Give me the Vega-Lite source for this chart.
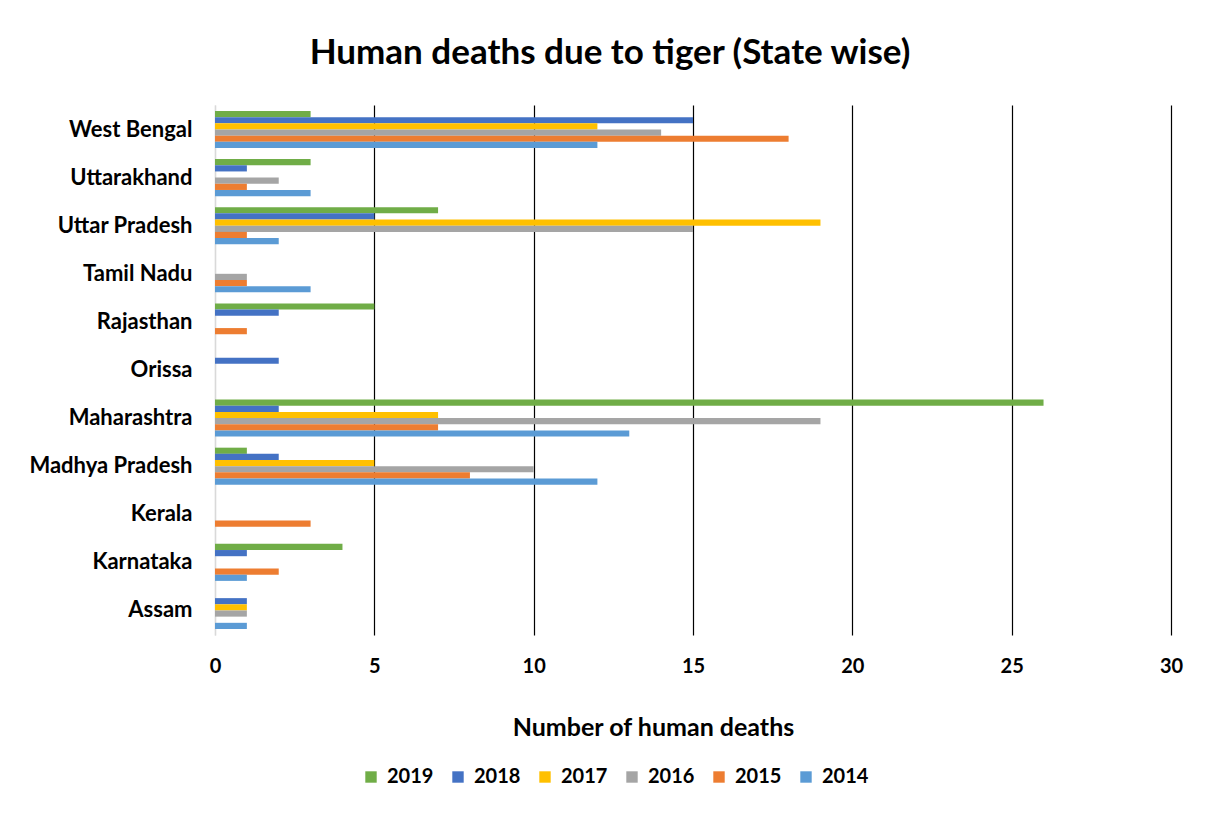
{
  "$schema": "https://vega.github.io/schema/vega-lite/v6.json",
  "width": 956,
  "height": 530,
  "autosize": {"type": "none"},
  "padding": {"left": 215, "top": 105, "right": 42, "bottom": 178},
  "background": "white",
  "title": {
    "text": "Human deaths due to tiger (State wise)",
    "font": "Lato",
    "fontSize": 35,
    "fontWeight": "bold",
    "color": "#000000",
    "anchor": "middle",
    "dx": -83,
    "offset": 34
  },
  "config": {"view": {"stroke": null}, "font": "Lato"},
  "data": {
    "values": [
      {"state": "West Bengal", "year": "2019", "deaths": 3},
      {"state": "West Bengal", "year": "2018", "deaths": 15},
      {"state": "West Bengal", "year": "2017", "deaths": 12},
      {"state": "West Bengal", "year": "2016", "deaths": 14},
      {"state": "West Bengal", "year": "2015", "deaths": 18},
      {"state": "West Bengal", "year": "2014", "deaths": 12},
      {"state": "Uttarakhand", "year": "2019", "deaths": 3},
      {"state": "Uttarakhand", "year": "2018", "deaths": 1},
      {"state": "Uttarakhand", "year": "2016", "deaths": 2},
      {"state": "Uttarakhand", "year": "2015", "deaths": 1},
      {"state": "Uttarakhand", "year": "2014", "deaths": 3},
      {"state": "Uttar Pradesh", "year": "2019", "deaths": 7},
      {"state": "Uttar Pradesh", "year": "2018", "deaths": 5},
      {"state": "Uttar Pradesh", "year": "2017", "deaths": 19},
      {"state": "Uttar Pradesh", "year": "2016", "deaths": 15},
      {"state": "Uttar Pradesh", "year": "2015", "deaths": 1},
      {"state": "Uttar Pradesh", "year": "2014", "deaths": 2},
      {"state": "Tamil Nadu", "year": "2016", "deaths": 1},
      {"state": "Tamil Nadu", "year": "2015", "deaths": 1},
      {"state": "Tamil Nadu", "year": "2014", "deaths": 3},
      {"state": "Rajasthan", "year": "2019", "deaths": 5},
      {"state": "Rajasthan", "year": "2018", "deaths": 2},
      {"state": "Rajasthan", "year": "2015", "deaths": 1},
      {"state": "Orissa", "year": "2018", "deaths": 2},
      {"state": "Maharashtra", "year": "2019", "deaths": 26},
      {"state": "Maharashtra", "year": "2018", "deaths": 2},
      {"state": "Maharashtra", "year": "2017", "deaths": 7},
      {"state": "Maharashtra", "year": "2016", "deaths": 19},
      {"state": "Maharashtra", "year": "2015", "deaths": 7},
      {"state": "Maharashtra", "year": "2014", "deaths": 13},
      {"state": "Madhya Pradesh", "year": "2019", "deaths": 1},
      {"state": "Madhya Pradesh", "year": "2018", "deaths": 2},
      {"state": "Madhya Pradesh", "year": "2017", "deaths": 5},
      {"state": "Madhya Pradesh", "year": "2016", "deaths": 10},
      {"state": "Madhya Pradesh", "year": "2015", "deaths": 8},
      {"state": "Madhya Pradesh", "year": "2014", "deaths": 12},
      {"state": "Kerala", "year": "2015", "deaths": 3},
      {"state": "Karnataka", "year": "2019", "deaths": 4},
      {"state": "Karnataka", "year": "2018", "deaths": 1},
      {"state": "Karnataka", "year": "2015", "deaths": 2},
      {"state": "Karnataka", "year": "2014", "deaths": 1},
      {"state": "Assam", "year": "2018", "deaths": 1},
      {"state": "Assam", "year": "2017", "deaths": 1},
      {"state": "Assam", "year": "2016", "deaths": 1},
      {"state": "Assam", "year": "2014", "deaths": 1}
    ]
  },
  "mark": {"type": "bar"},
  "encoding": {
    "y": {
      "field": "state",
      "type": "nominal",
      "sort": ["West Bengal", "Uttarakhand", "Uttar Pradesh", "Tamil Nadu", "Rajasthan", "Orissa", "Maharashtra", "Madhya Pradesh", "Kerala", "Karnataka", "Assam"],
      "scale": {"paddingInner": 0.23, "paddingOuter": 0.125},
      "axis": {
        "title": null,
        "ticks": false,
        "labelPadding": 23,
        "labelFont": "Lato",
        "labelFontSize": 22,
        "labelFontWeight": "bold",
        "labelColor": "#000000",
        "domainColor": "#D9D9D9",
        "domainWidth": 1.5
      }
    },
    "yOffset": {
      "field": "year",
      "type": "nominal",
      "scale": {"domain": ["2019", "2018", "2017", "2016", "2015", "2014"], "paddingInner": 0, "paddingOuter": 0}
    },
    "x": {
      "field": "deaths",
      "type": "quantitative",
      "scale": {"domain": [0, 30]},
      "axis": {
        "values": [0, 5, 10, 15, 20, 25, 30],
        "title": "Number of human deaths",
        "grid": true,
        "gridColor": {"condition": {"test": "datum.value === 0", "value": "#D9D9D9"}, "value": "#000000"},
        "gridWidth": 1.2,
        "domain": false,
        "ticks": false,
        "labelFlush": false,
        "labelPadding": 21,
        "labelFont": "Lato",
        "labelFontSize": 20,
        "labelFontWeight": "bold",
        "labelColor": "#000000",
        "titleFont": "Lato",
        "titleFontSize": 25,
        "titleFontWeight": "bold",
        "titleColor": "#000000",
        "titleX": 438,
        "titleY": 92,
        "titleBaseline": "middle"
      }
    },
    "color": {
      "field": "year",
      "type": "nominal",
      "scale": {
        "domain": ["2019", "2018", "2017", "2016", "2015", "2014"],
        "range": ["#70AD47", "#4472C4", "#FFC000", "#A5A5A5", "#ED7D31", "#5B9BD5"]
      },
      "legend": {
        "title": null,
        "orient": "none",
        "legendX": 146,
        "legendY": 662,
        "direction": "horizontal",
        "columns": 6,
        "symbolType": "square",
        "symbolSize": 130,
        "symbolStrokeWidth": 0,
        "labelFont": "Lato",
        "labelFontSize": 20,
        "labelFontWeight": "bold",
        "labelColor": "#000000",
        "labelOffset": 6,
        "columnPadding": 14
      }
    }
  }
}
